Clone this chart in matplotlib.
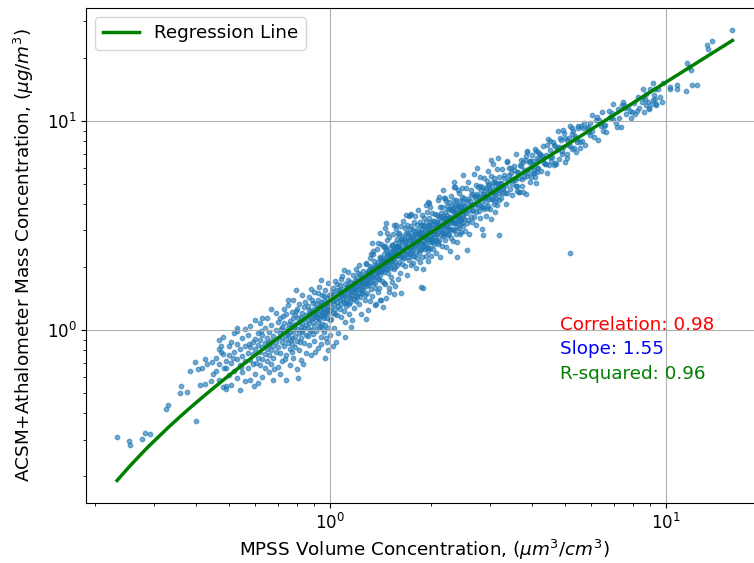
import numpy as np
import matplotlib
matplotlib.use("Agg")
import matplotlib.pyplot as plt

plt.rcParams['font.size'] = 12

# ---------------- data ----------------
band_a = [(0.233,0.309),(0.253,0.294),(0.255,0.284),(0.277,0.301),(0.283,0.321),(0.291,0.318),
          (0.325,0.418),(0.331,0.438),(0.401,0.366),(0.360,0.540),(0.358,0.501),(0.375,0.505),
          (0.384,0.637),(0.398,0.703),(0.407,0.649),(0.417,0.658),(0.425,0.729),(0.431,0.693),
          (0.446,0.703),(0.410,0.548),(0.426,0.556),(0.442,0.572),(0.468,0.896),(0.475,0.836),
          (0.475,0.785),(0.460,0.639),(0.484,0.663),(0.482,0.536),(0.493,0.526)]

band_b = [(0.45,0.62),(0.46,0.74),(0.47,0.69),(0.47,0.58),(0.48,0.77),(0.48,0.93),(0.49,0.66),
          (0.49,0.71),(0.50,0.84),(0.50,0.61),(0.50,0.76),(0.51,0.55),(0.51,0.70),(0.51,0.88),
          (0.52,0.79),(0.52,0.64),(0.52,0.97),(0.53,0.73),(0.53,0.59),(0.53,0.86),(0.54,0.68),
          (0.54,0.81),(0.54,0.52),(0.55,0.75),(0.55,0.92),(0.55,0.63),(0.56,0.71),(0.56,1.01),
          (0.56,0.84),(0.56,0.57),(0.49,0.54),(0.53,0.99),(0.47,0.81),(0.545,0.67),(0.515,0.74)]

band_c = [(0.57,0.78),(0.57,0.66),(0.57,0.95),(0.58,0.83),(0.58,0.58),(0.58,0.72),(0.58,1.05),
          (0.59,0.88),(0.59,0.69),(0.59,0.77),(0.60,0.62),(0.60,0.91),(0.60,0.81),(0.60,1.12),
          (0.61,0.74),(0.61,0.85),(0.61,0.56),(0.61,0.97),(0.62,0.79),(0.62,0.68),(0.62,0.90),
          (0.62,1.08),(0.63,0.83),(0.63,0.73),(0.63,0.60),(0.63,0.95),(0.64,0.87),(0.64,0.77),
          (0.64,1.02),(0.64,0.66),(0.65,0.81),(0.65,0.92),(0.65,0.71),(0.65,1.15),(0.66,0.85),
          (0.66,0.63),(0.66,0.98),(0.66,0.76),(0.67,0.89),(0.67,0.80),(0.67,0.69),(0.67,1.06),
          (0.68,0.94),(0.68,0.84),(0.68,0.58),(0.68,0.74),(0.69,0.88),(0.69,1.00),(0.69,0.79),
          (0.69,1.21),(0.70,0.92),(0.70,0.67),(0.70,0.83),(0.70,1.10),(0.595,0.54),(0.625,0.99),
          (0.655,0.87),(0.685,0.65),(0.575,0.86),(0.605,0.70)]

band_d = [(0.71,0.97),(0.71,0.78),(0.71,1.15),(0.71,0.62),(0.72,0.88),(0.72,1.04),(0.72,0.93),
          (0.72,0.71),(0.73,1.26),(0.73,0.84),(0.73,0.99),(0.73,1.08),(0.74,0.91),(0.74,0.76),
          (0.74,1.19),(0.74,0.58),(0.75,1.02),(0.75,0.87),(0.75,0.95),(0.75,1.32),(0.76,0.81),
          (0.76,1.11),(0.76,0.98),(0.76,0.68),(0.77,1.05),(0.77,0.92),(0.77,1.22),(0.77,0.86),
          (0.78,0.99),(0.78,1.14),(0.78,0.74),(0.78,1.40),(0.79,1.07),(0.79,0.94),(0.79,0.83),
          (0.79,1.18),(0.80,1.01),(0.80,1.27),(0.80,0.89),(0.80,0.65),(0.81,1.10),(0.81,0.97),
          (0.81,1.34),(0.81,0.80),(0.82,1.04),(0.82,1.16),(0.82,0.92),(0.82,0.72),(0.83,1.21),
          (0.83,1.08),(0.83,0.98),(0.83,1.47),(0.84,1.13),(0.84,0.87),(0.84,1.02),(0.84,1.29),
          (0.85,1.18),(0.85,0.95),(0.85,1.06),(0.85,0.78),(0.715,1.01),(0.735,0.73),(0.755,1.07),
          (0.775,0.79),(0.795,1.23),(0.815,0.88),(0.835,0.69),(0.845,1.37),(0.725,1.17),
          (0.765,0.90),(0.805,1.14),(0.825,1.00),(0.745,0.96),(0.785,1.03),(0.805,0.59)]

band_e = [(0.86,1.12),(0.86,0.94),(0.86,1.31),(0.86,1.03),(0.87,1.19),(0.87,0.85),(0.87,1.44),
          (0.87,1.08),(0.88,1.24),(0.88,1.00),(0.88,1.15),(0.88,0.76),(0.89,1.35),(0.89,1.10),
          (0.89,0.96),(0.89,1.21),(0.90,1.27),(0.90,1.05),(0.90,1.52),(0.90,0.89),(0.91,1.16),
          (0.91,1.33),(0.91,0.99),(0.91,1.23),(0.92,1.40),(0.92,1.09),(0.92,1.20),(0.92,0.82),
          (0.93,1.29),(0.93,1.13),(0.93,1.02),(0.93,1.61),(0.94,1.25),(0.94,1.36),(0.94,0.93),
          (0.94,1.18),(0.95,1.31),(0.95,1.07),(0.95,1.47),(0.95,1.22),(0.96,1.14),(0.96,1.38),
          (0.96,0.98),(0.96,1.28),(0.97,1.19),(0.97,1.55),(0.97,1.06),(0.97,1.33),(0.98,1.26),
          (0.98,0.88),(0.98,1.42),(0.98,1.15),(0.99,1.30),(0.99,1.21),(0.99,1.03),(0.99,1.68),
          (1.00,1.36),(1.00,1.12),(1.00,1.25),(1.00,0.95),(0.865,1.25),(0.875,0.99),(0.885,1.39),
          (0.895,1.14),(0.905,0.79),(0.915,1.28),(0.925,1.50),(0.935,1.05),(0.945,1.32),
          (0.955,1.17),(0.965,1.45),(0.975,0.92),(0.985,1.24),(0.995,1.48),(0.905,1.20),
          (0.955,1.01),(0.985,1.35),(0.925,1.16),(0.945,0.86),(0.965,1.22),(0.88,1.58),
          (0.99,0.80),(0.94,1.73),(0.97,0.74)]

band_f = [(1.01,1.29),(1.01,1.45),(1.01,1.13),(1.02,1.38),(1.02,1.60),(1.02,1.21),(1.03,1.33),
          (1.03,1.02),(1.03,1.49),(1.04,1.41),(1.04,1.26),(1.04,1.72),(1.05,1.36),(1.05,1.18),
          (1.05,1.55),(1.06,1.44),(1.06,1.30),(1.06,0.97),(1.07,1.50),(1.07,1.39),(1.07,1.64),
          (1.08,1.34),(1.08,1.47),(1.08,1.16),(1.09,1.58),(1.09,1.42),(1.09,1.81),(1.10,1.37),
          (1.10,1.52),(1.10,1.24),(1.11,1.46),(1.11,1.67),(1.11,1.09),(1.12,1.55),(1.12,1.40),
          (1.12,1.31),(1.13,1.62),(1.13,1.49),(1.13,1.90),(1.14,1.44),(1.14,1.57),(1.14,1.20),
          (1.15,1.53),(1.15,1.70),(1.15,1.36),(1.16,1.60),(1.16,1.47),(1.16,1.04),(1.17,1.66),
          (1.17,1.52),(1.17,1.83),(1.18,1.58),(1.18,1.41),(1.18,1.28),(1.19,1.73),(1.19,1.63),
          (1.19,1.50),(1.20,1.68),(1.20,1.55),(1.20,1.97),(1.21,1.61),(1.21,1.46),(1.21,1.77),
          (1.22,1.70),(1.22,1.58),(1.22,1.33),(1.23,1.65),(1.23,1.86),(1.23,1.51),(1.24,1.75),
          (1.24,1.62),(1.24,1.19),(1.25,1.69),(1.25,1.80),(1.25,1.56),(1.015,1.52),(1.035,1.19),
          (1.055,1.66),(1.075,1.27),(1.095,1.48),(1.115,1.35),(1.135,1.74),(1.155,1.43),
          (1.175,1.59),(1.195,1.38),(1.215,1.88),(1.235,1.44),(1.045,0.88),(1.105,1.95),
          (1.165,1.12),(1.225,2.06),(1.065,1.56),(1.125,1.61),(1.185,1.68),(1.245,1.50),
          (1.02,0.84),(1.08,1.76),(1.14,1.34),(1.20,1.45),(1.11,0.93)]

band_g = [(1.26,1.72),(1.26,1.58),(1.26,1.93),(1.27,1.66),(1.27,1.81),(1.27,1.40),(1.28,1.77),
          (1.28,1.62),(1.28,2.10),(1.29,1.70),(1.29,1.87),(1.29,1.51),(1.30,1.83),(1.30,1.74),
          (1.30,1.25),(1.31,1.79),(1.31,1.95),(1.31,1.64),(1.32,1.88),(1.32,1.71),(1.32,2.21),
          (1.33,1.84),(1.33,1.57),(1.33,1.99),(1.34,1.80),(1.34,1.92),(1.34,1.46),(1.35,1.96),
          (1.35,1.75),(1.35,2.31),(1.36,1.86),(1.36,2.04),(1.36,1.68),(1.37,1.93),(1.37,1.79),
          (1.37,1.33),(1.38,2.01),(1.38,1.89),(1.38,2.45),(1.39,1.97),(1.39,1.76),(1.39,2.12),
          (1.40,2.06),(1.40,1.91),(1.40,1.60),(1.41,2.00),(1.41,2.25),(1.41,1.84),(1.42,2.11),
          (1.42,1.95),(1.42,2.58),(1.43,2.04),(1.43,1.72),(1.43,2.18),(1.44,2.15),(1.44,1.99),
          (1.44,1.29),(1.45,2.08),(1.45,2.32),(1.45,1.90),(1.46,2.20),(1.46,2.03),(1.46,1.66),
          (1.47,2.13),(1.47,2.41),(1.47,1.96),(1.48,2.26),(1.48,2.07),(1.48,2.70),(1.49,2.17),
          (1.49,1.88),(1.49,2.35),(1.50,2.29),(1.50,2.11),(1.50,1.53),(1.51,2.22),(1.51,2.48),
          (1.51,2.02),(1.52,2.33),(1.52,2.15),(1.52,1.80),(1.53,2.26),(1.53,2.55),(1.53,2.09),
          (1.54,2.38),(1.54,2.19),(1.54,2.88),(1.55,2.31),(1.55,1.97),(1.55,2.44),(1.56,2.41),
          (1.56,2.23),(1.56,1.62),(1.57,2.35),(1.57,2.62),(1.57,2.13),(1.58,2.46),(1.58,2.27),
          (1.58,3.05),(1.59,2.39),(1.59,2.06),(1.59,2.52),(1.60,2.50),(1.60,2.32),(1.60,1.75),
          (1.285,1.13),(1.345,2.38),(1.425,1.39),(1.485,2.93),(1.555,1.49),(1.315,2.02),
          (1.395,1.52),(1.465,2.52),(1.535,1.70),(1.585,2.74)]

stragglers = [(0.796,1.55),(0.75,1.39),(0.67,1.27),(0.63,1.14),(0.53,1.02),(1.47,3.24),
              (1.58,3.18),(1.41,2.91),(1.34,2.61),(1.46,3.08),(1.73,3.55),(1.96,4.10),
              (1.87,1.61),(1.63,1.50),(1.89,1.59),(1.47,1.42),(1.41,1.39),(1.36,1.32),
              (1.69,3.55),(1.75,3.59),(1.94,3.96),(1.98,4.05),(2.17,4.67),(2.35,5.10),
              (2.49,5.52),(2.74,5.96),(3.03,6.50),(3.16,6.70),(2.40,2.23),(2.57,2.41),
              (2.86,2.85),(3.20,2.85),(2.12,4.34),(2.21,4.30),(2.35,4.85),
              (5.82,9.31),(6.05,8.95),(6.33,10.1),(6.60,9.55),(6.92,10.9),(7.25,10.4),
              (7.58,11.6),(7.95,11.1),(5.95,9.85),(6.42,9.45),(6.95,10.2),(7.40,11.9)]

fg_x = [1.262,1.273,1.281,1.294,1.303,1.318,1.327,1.336,1.349,1.358,1.366,1.377,1.389,1.397,
        1.404,1.416,1.428,1.437,1.449,1.458,1.466,1.477,1.488,1.497,1.506,1.518,1.527,1.538,
        1.546,1.557,1.568,1.577,1.589,1.598]
fg_y = [1.73,1.48,2.07,1.66,1.93,1.38,2.32,1.81,1.69,2.15,1.59,2.03,1.88,2.62,1.75,2.22,1.91,
        2.53,1.68,2.14,2.46,1.97,2.32,1.59,2.78,2.19,1.98,2.56,2.31,3.20,2.00,2.50,2.30,2.87]

h_x = [1.603,1.607,1.611,1.615,1.619,1.623,1.627,1.631,1.635,1.639,1.643,1.647,1.651,1.655,
       1.659,1.663,1.667,1.671,1.675,1.679,1.683,1.687,1.691,1.695,1.699,1.703,1.707,1.711,
       1.715,1.719,1.723,1.727,1.731,1.735,1.739,1.743,1.747,1.751,1.755,1.759,1.763,1.767,
       1.771,1.775,1.779,1.783,1.787,1.791,1.795,1.799,1.803,1.807,1.811,1.815,1.819,1.823,
       1.827,1.831,1.835,1.839,1.843,1.847,1.851,1.855,1.859,1.863,1.867,1.871,1.875,1.879,
       1.883,1.887,1.891,1.895,1.899,1.903,1.907,1.911,1.915,1.919,1.923,1.927,1.931,1.935,
       1.939,1.943,1.947,1.951,1.955,1.959,1.963,1.967,1.971,1.975,1.979,1.983,1.987,1.991,
       1.995,1.999]
h_y = [2.50,2.11,2.93,2.32,2.67,1.88,3.15,2.44,2.24,2.82,2.07,2.63,2.41,3.34,2.21,2.77,2.35,
       3.09,2.03,2.56,2.92,2.32,2.71,1.84,3.18,2.49,2.24,2.86,2.55,3.51,2.17,2.70,2.47,3.04,
       2.32,2.79,2.04,3.14,2.62,2.42,2.40,3.01,2.09,2.73,3.31,2.52,2.26,2.90,3.50,2.59,1.98,
       2.84,2.36,3.18,2.70,2.21,3.03,2.52,3.74,2.34,2.86,2.67,3.30,2.11,2.96,2.58,3.19,2.45,
       2.81,3.54,2.24,3.05,2.66,1.97,3.15,2.51,2.91,3.44,2.44,2.78,3.01,2.62,2.26,3.31,2.86,
       2.49,3.66,2.73,3.16,2.40,2.94,2.15,3.44,2.64,3.05,2.82,3.89,2.48,3.30,2.75]

h2_x = [1.605,1.618,1.631,1.644,1.657,1.670,1.683,1.696,1.709,1.722,1.735,1.748,1.761,1.774,
        1.787,1.800,1.813,1.826,1.839,1.852,1.865,1.878,1.891,1.904,1.917,1.930,1.943,1.956,
        1.969,1.982,1.995]
h2_y = [2.53,2.27,2.73,2.42,2.21,2.68,2.54,2.40,2.91,2.33,2.71,2.51,2.84,2.27,2.69,2.99,2.50,
        2.68,2.91,2.43,2.88,2.62,3.19,2.54,2.86,2.76,3.09,2.48,3.18,2.71,2.98]

i_x = [2.003,2.008,2.013,2.018,2.023,2.028,2.033,2.038,2.043,2.048,2.053,2.058,2.063,2.068,
       2.073,2.078,2.083,2.088,2.093,2.098,2.103,2.108,2.113,2.118,2.123,2.128,2.133,2.138,
       2.143,2.148,2.153,2.158,2.163,2.168,2.173,2.178,2.183,2.188,2.193,2.198,2.203,2.208,
       2.213,2.218,2.223,2.228,2.233,2.238,2.243,2.248,2.253,2.258,2.263,2.268,2.273,2.278,
       2.283,2.288,2.293,2.298,2.303,2.308,2.313,2.318,2.323,2.328,2.333,2.338,2.343,2.348,
       2.353,2.358,2.363,2.368,2.373,2.378,2.383,2.388,2.393,2.398,2.403,2.408,2.413,2.418,
       2.423,2.428,2.433,2.438,2.443,2.448,2.453,2.458,2.463,2.468,2.473,2.478,2.483,2.488,
       2.493,2.498]
i_y = [2.27,3.18,2.92,2.64,3.64,2.45,3.07,2.88,3.33,2.59,2.75,3.00,3.61,2.35,3.24,2.70,3.56,
       2.90,3.18,2.58,4.18,3.05,3.43,2.70,3.02,3.87,2.25,3.32,2.86,3.62,3.19,2.54,3.88,2.96,
       3.51,2.82,4.27,3.09,3.39,2.69,3.67,2.93,3.20,4.15,2.49,3.55,3.10,3.93,2.85,3.39,3.30,
       2.90,4.12,3.49,3.03,3.81,2.40,3.25,3.74,2.76,4.37,3.49,3.05,3.99,3.24,3.73,2.67,4.20,
       3.41,3.67,3.01,4.84,3.27,3.95,2.90,3.54,4.19,3.13,3.78,2.65,3.48,4.71,3.93,3.07,3.44,
       4.54,3.75,2.88,4.16,3.33,3.93,3.42,2.95,4.32,3.74,3.27,4.80,3.58,4.15,3.15]

i2_x = [2.009,2.025,2.041,2.057,2.073,2.089,2.105,2.121,2.137,2.153,2.169,2.185,2.201,2.217,
        2.233,2.249,2.265,2.281,2.297,2.313,2.329,2.345,2.361,2.377,2.393,2.409,2.425,2.441,
        2.457,2.473,2.489]
i2_y = [2.74,3.32,2.67,3.12,2.90,3.30,2.65,3.14,3.51,2.94,3.16,3.44,2.88,3.43,3.13,3.82,3.05,
        3.44,3.34,3.74,3.01,3.87,3.30,3.65,3.28,3.95,3.51,3.21,3.90,3.70,3.47]

j_x = [2.505,2.515,2.525,2.535,2.545,2.555,2.565,2.575,2.585,2.595,2.605,2.615,2.625,2.635,
       2.645,2.655,2.665,2.675,2.685,2.695,2.705,2.715,2.725,2.735,2.745,2.755,2.765,2.775,
       2.785,2.795,2.805,2.815,2.825,2.835,2.845,2.855,2.865,2.875,2.885,2.895,2.905,2.915,
       2.925,2.935,2.945,2.955,2.965,2.975,2.985,2.995,3.005,3.015,3.025,3.035,3.045,3.055,
       3.065,3.075,3.085,3.095,3.105,3.115,3.125,3.135,3.145,3.155,3.165,3.175,3.185,3.195]
j_y = [3.42,4.30,2.99,3.92,4.78,3.65,3.27,4.22,5.09,3.78,2.90,4.17,3.47,4.68,3.98,3.28,4.49,
       3.74,5.58,3.49,4.28,4.01,4.96,3.17,4.47,3.90,4.83,3.72,4.28,5.39,3.43,4.67,4.09,3.04,
       4.85,3.88,4.50,5.34,3.79,4.33,4.69,4.09,3.53,5.19,4.49,3.93,5.78,4.32,5.01,3.80,4.68,
       3.42,5.49,4.22,4.88,4.53,6.26,4.00,5.32,4.45,3.67,5.14,4.73,4.27,5.91,3.97,4.99,4.67,
       5.40,4.21]

j2_x = [2.510,2.535,2.560,2.585,2.610,2.635,2.660,2.685,2.710,2.735,2.760,2.785,2.810,2.835,
        2.860,2.885,2.910,2.935,2.960,2.985,3.010,3.035,3.060,3.085,3.110,3.135,3.160,3.185]
j2_y = [3.92,3.66,4.16,3.35,3.97,4.45,3.73,4.00,4.37,3.67,4.37,3.99,4.88,3.89,4.41,4.27,4.80,
        3.86,4.97,4.24,4.69,4.22,5.09,4.53,4.14,5.04,4.79,4.54]

k_x = [3.23,3.26,3.29,3.31,3.35,3.38,3.40,3.44,3.47,3.49,3.53,3.55,3.58,3.62,3.64,3.67,3.71,
       3.74,3.77,3.80,3.83,3.86,3.90,3.93,3.95,3.99,4.02,4.05,4.09,4.11,4.15,4.18,3.24,3.33,
       3.42,3.51,3.60,3.69,3.78,3.87,3.97,4.07,4.16,3.28,3.46,3.65,3.84,4.03,3.37,3.56,3.75,
       3.94,4.13]
k_y = [4.28,5.90,4.75,5.33,4.02,6.36,5.21,4.75,5.94,4.44,5.83,5.22,6.95,4.89,5.74,4.57,6.54,
       5.28,6.36,5.71,4.47,7.08,5.67,6.37,5.14,6.89,6.21,5.65,7.33,5.06,6.64,5.99,5.08,4.55,
       5.97,5.21,4.64,6.16,5.40,7.16,6.01,5.43,7.09,4.79,5.62,4.60,6.81,5.62,6.45,5.35,4.56,
       6.44,5.97]

k2_x = [3.22,3.26,3.30,3.34,3.38,3.42,3.46,3.50,3.54,3.58,3.62,3.66,3.70,3.74,3.78,3.82,3.86,
        3.90,3.94,3.98,4.02,4.06,4.10,4.14,4.18]
k2_y = [5.04,4.55,5.51,4.93,4.52,5.51,5.26,5.00,6.08,4.90,5.73,5.35,6.08,4.89,5.81,6.51,5.47,
        5.88,6.42,5.39,6.43,5.87,7.19,5.74,6.50]

l_x = [4.22,4.26,4.31,4.34,4.39,4.43,4.47,4.52,4.56,4.61,4.66,4.69,4.74,4.79,4.83,4.88,4.93,
       4.97,5.03,5.08,5.13,5.19,5.25,5.31,5.36,5.42,5.49,5.55,4.28,4.41,4.54,4.68,4.81,4.95,
       5.10,5.27,5.44,5.58,5.18]
l_y = [6.97,5.80,7.59,6.33,6.89,5.66,8.21,6.77,6.42,7.91,6.19,7.61,7.26,8.98,6.58,8.11,7.21,
       8.76,6.35,8.15,7.66,9.43,7.34,8.97,8.30,7.12,9.50,7.96,6.81,6.24,8.00,6.29,7.52,9.10,
       6.67,8.66,7.99,9.47,2.34]

l2_x = [4.24,4.30,4.36,4.42,4.48,4.54,4.60,4.66,4.72,4.78,4.84,4.90,4.96,5.02,5.08,5.14,5.20,
        5.26,5.32,5.38,5.44,5.50,5.56]
l2_y = [6.87,6.58,6.27,7.65,6.17,7.24,6.77,7.72,6.23,7.41,8.32,7.00,7.55,8.26,6.96,8.31,7.61,
        9.32,7.46,8.46,8.22,9.24,7.46]

m_x = [5.63,5.71,5.77,5.86,5.93,6.02,6.11,6.19,6.28,6.37,6.46,6.56,6.66,6.77,6.87,6.98,7.10,
       7.22,7.35,7.47,7.61,7.74,7.88,5.67,5.97,6.24,6.51,6.82,7.16,7.53,7.81]
m_y = [8.04,9.77,7.73,9.36,8.83,10.7,8.42,10.1,8.16,9.82,11.1,9.48,8.91,11.2,10.3,12.1,9.84,
       11.4,9.42,12.4,10.8,11.7,10.3,9.24,8.60,10.5,9.02,10.5,9.37,12.0,11.2]

n_x = [8.03,8.12,8.27,8.35,8.48,8.63,8.75,8.86,8.97,9.08,9.22,9.36,9.48,9.62,9.80,8.19,8.57,
       8.93,9.31,8.54,8.66,8.72,8.90,9.15,9.15,9.27,9.34,9.73,10.3,10.3,10.8,10.8,11.5,11.6,
       11.7,11.9,12.0,12.4,13.3,13.4,13.7,15.8]
n_y = [12.2,10.8,13.1,11.5,12.4,11.0,13.5,12.3,14.3,12.1,13.4,11.9,14.3,13.1,15.2,11.2,13.0,
       11.5,14.3,14.2,12.7,11.9,11.4,15.2,12.6,12.7,12.1,12.3,14.5,14.2,14.9,14.2,14.0,19.0,
       18.2,17.5,14.9,14.9,23.1,22.2,24.1,27.2]

slope = 1.55
intercept = -0.17
stats_labels = ["Correlation: 0.98", "Slope: 1.55", "R-squared: 0.96"]
stats_colors = ["red", "blue", "green"]

# ---------------- assemble ----------------
pairs = band_a + band_b + band_c + band_d + band_e + band_f + band_g + stragglers
xs_all = [p[0] for p in pairs]
ys_all = [p[1] for p in pairs]
for sx, sy in [(fg_x, fg_y), (h_x, h_y), (h2_x, h2_y), (i_x, i_y), (i2_x, i2_y),
               (j_x, j_y), (j2_x, j2_y), (k_x, k_y), (k2_x, k2_y), (l_x, l_y),
               (l2_x, l2_y), (m_x, m_y), (n_x, n_y)]:
    assert len(sx) == len(sy), (len(sx), len(sy))
    xs_all += sx
    ys_all += sy
x = np.array(xs_all)
y = np.array(ys_all)

fig = plt.figure(figsize=(7.54, 5.63), dpi=100)
ax = fig.add_axes([0.1145, 0.1066, 0.8977, 0.8796])

ax.scatter(x, y, s=10, alpha=0.6, color='C0')
xl = np.sort(x)
ax.plot(xl, slope * xl + intercept, color='green', lw=2.5, label='Regression Line')

ax.set_xscale('log')
ax.set_yscale('log')
ax.grid(True)
ax.set_xlabel(r'MPSS Volume Concentration, ($\mu m^3/cm^3$)', fontsize=13.2)
ax.set_ylabel(r'ACSM+Athalometer Mass Concentration, ($\mu g/m^3$)', fontsize=13.2, labelpad=8)
ax.legend(loc='upper left', fontsize=13.2)

for i, (lab, col) in enumerate(zip(stats_labels, stats_colors)):
    ax.text(0.7, 0.35 - 0.05 * i, lab, color=col, transform=ax.transAxes, fontsize=13.2)

fig.savefig('out.png', dpi=100)
